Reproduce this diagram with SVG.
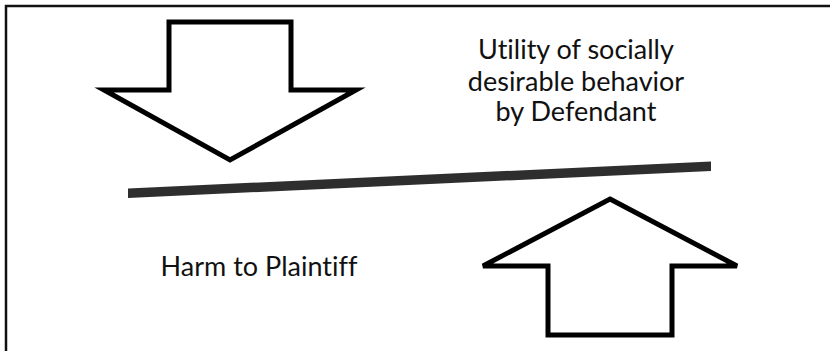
<svg xmlns="http://www.w3.org/2000/svg" width="830" height="351" viewBox="0 0 830 351">
<style>
.arrow{fill:#fff;stroke:#000;stroke-width:5;stroke-linejoin:miter}
.lbl{font-family:Lato,"Liberation Sans",sans-serif;font-size:27px;fill:#111;text-anchor:middle;font-variant-ligatures:none}
.frame{stroke:#111;stroke-width:2.5;fill:none}
</style>
<rect width="830" height="351" fill="#fff"/>
<path class="frame" d="M6,351 V6 H830"/>
<g id="connectors">
<polygon id="beam" points="128,188.5 711,161.5 711,171 128,198" fill="#2e2e2e"/>
</g>
<g id="down-arrow">
<polygon class="arrow" points="169,22 291,22 291,90 356,90 230,160 104,90 169,90"/>
</g>
<g id="up-arrow">
<polygon class="arrow" points="610,199 737,266 672,266 672,335 548,335 548,266 483,266"/>
</g>
<g id="utility-label">
<text class="lbl" x="576" y="59">Utility of socially</text>
<text class="lbl" x="576" y="91">desirable behavior</text>
<text class="lbl" x="576" y="121">by Defendant</text>
</g>
<g id="harm-label">
<text class="lbl" x="259" y="276">Harm to Plaintiff</text>
</g>
</svg>
